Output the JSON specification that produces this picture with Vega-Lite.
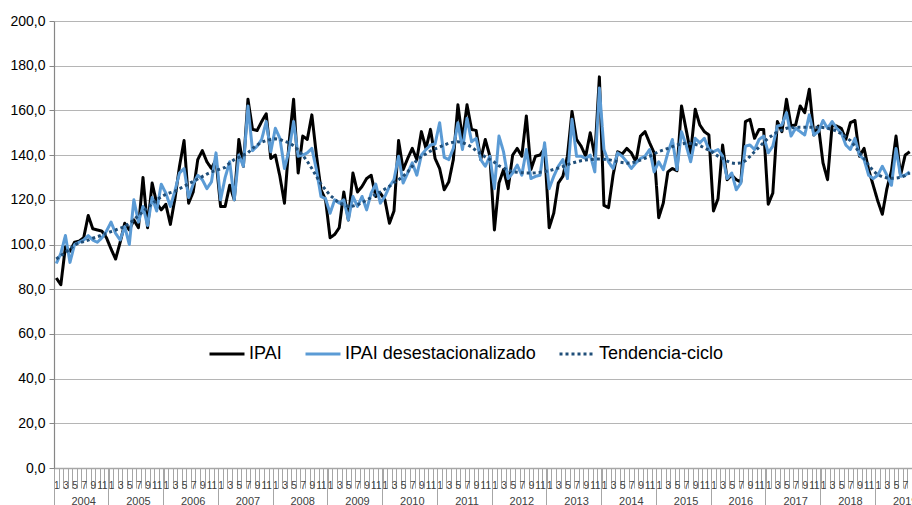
{
"$schema":"https://vega.github.io/schema/vega-lite/v6.json",
"width":858,"height":447,
"autosize":{"type":"none"},
"padding":{"left":54,"top":21,"right":0,"bottom":37},
"background":"white",
"config":{"view":{"stroke":null},"font":"Liberation Sans"},
"data":{"values":[
{"m":"2004-01","IPAI":85,"IPAI desestacionalizado":91.5,"Tendencia-ciclo":93.5},
{"m":"2004-02","IPAI":82,"IPAI desestacionalizado":96,"Tendencia-ciclo":95},
{"m":"2004-03","IPAI":99,"IPAI desestacionalizado":104,"Tendencia-ciclo":96.5},
{"m":"2004-04","IPAI":97,"IPAI desestacionalizado":92,"Tendencia-ciclo":98},
{"m":"2004-05","IPAI":101,"IPAI desestacionalizado":100,"Tendencia-ciclo":99.8},
{"m":"2004-06","IPAI":101.5,"IPAI desestacionalizado":101,"Tendencia-ciclo":100.7},
{"m":"2004-07","IPAI":103,"IPAI desestacionalizado":102,"Tendencia-ciclo":101.3},
{"m":"2004-08","IPAI":113,"IPAI desestacionalizado":104,"Tendencia-ciclo":102},
{"m":"2004-09","IPAI":107,"IPAI desestacionalizado":102,"Tendencia-ciclo":102.8},
{"m":"2004-10","IPAI":106.5,"IPAI desestacionalizado":101,"Tendencia-ciclo":103.5},
{"m":"2004-11","IPAI":106,"IPAI desestacionalizado":103,"Tendencia-ciclo":104.2},
{"m":"2004-12","IPAI":103,"IPAI desestacionalizado":106,"Tendencia-ciclo":105},
{"m":"2005-01","IPAI":98,"IPAI desestacionalizado":110,"Tendencia-ciclo":105.8},
{"m":"2005-02","IPAI":93.5,"IPAI desestacionalizado":105,"Tendencia-ciclo":106.5},
{"m":"2005-03","IPAI":101,"IPAI desestacionalizado":102,"Tendencia-ciclo":107.3},
{"m":"2005-04","IPAI":109.5,"IPAI desestacionalizado":108,"Tendencia-ciclo":108},
{"m":"2005-05","IPAI":106.5,"IPAI desestacionalizado":100,"Tendencia-ciclo":109.5},
{"m":"2005-06","IPAI":111,"IPAI desestacionalizado":120,"Tendencia-ciclo":111},
{"m":"2005-07","IPAI":107.5,"IPAI desestacionalizado":110,"Tendencia-ciclo":113},
{"m":"2005-08","IPAI":130,"IPAI desestacionalizado":117,"Tendencia-ciclo":114.8},
{"m":"2005-09","IPAI":107.5,"IPAI desestacionalizado":108.5,"Tendencia-ciclo":116.5},
{"m":"2005-10","IPAI":127.5,"IPAI desestacionalizado":121,"Tendencia-ciclo":118.2},
{"m":"2005-11","IPAI":118.5,"IPAI desestacionalizado":115,"Tendencia-ciclo":120},
{"m":"2005-12","IPAI":115.5,"IPAI desestacionalizado":127,"Tendencia-ciclo":121.3},
{"m":"2006-01","IPAI":118,"IPAI desestacionalizado":123,"Tendencia-ciclo":122.5},
{"m":"2006-02","IPAI":109,"IPAI desestacionalizado":117,"Tendencia-ciclo":123.2},
{"m":"2006-03","IPAI":120.5,"IPAI desestacionalizado":124,"Tendencia-ciclo":123.8},
{"m":"2006-04","IPAI":135,"IPAI desestacionalizado":132,"Tendencia-ciclo":125},
{"m":"2006-05","IPAI":146.5,"IPAI desestacionalizado":134,"Tendencia-ciclo":126},
{"m":"2006-06","IPAI":118.5,"IPAI desestacionalizado":121,"Tendencia-ciclo":127.2},
{"m":"2006-07","IPAI":123.5,"IPAI desestacionalizado":127,"Tendencia-ciclo":128.2},
{"m":"2006-08","IPAI":138,"IPAI desestacionalizado":131,"Tendencia-ciclo":129.3},
{"m":"2006-09","IPAI":142,"IPAI desestacionalizado":129,"Tendencia-ciclo":130.4},
{"m":"2006-10","IPAI":137,"IPAI desestacionalizado":125,"Tendencia-ciclo":131.5},
{"m":"2006-11","IPAI":134,"IPAI desestacionalizado":128,"Tendencia-ciclo":132.5},
{"m":"2006-12","IPAI":138,"IPAI desestacionalizado":141,"Tendencia-ciclo":133.2},
{"m":"2007-01","IPAI":117,"IPAI desestacionalizado":120,"Tendencia-ciclo":133.8},
{"m":"2007-02","IPAI":117,"IPAI desestacionalizado":130,"Tendencia-ciclo":134.5},
{"m":"2007-03","IPAI":126.5,"IPAI desestacionalizado":137,"Tendencia-ciclo":136.5},
{"m":"2007-04","IPAI":120,"IPAI desestacionalizado":120,"Tendencia-ciclo":138},
{"m":"2007-05","IPAI":147,"IPAI desestacionalizado":140,"Tendencia-ciclo":139},
{"m":"2007-06","IPAI":135,"IPAI desestacionalizado":135,"Tendencia-ciclo":140},
{"m":"2007-07","IPAI":165,"IPAI desestacionalizado":162,"Tendencia-ciclo":141},
{"m":"2007-08","IPAI":151.5,"IPAI desestacionalizado":142,"Tendencia-ciclo":143},
{"m":"2007-09","IPAI":151,"IPAI desestacionalizado":144,"Tendencia-ciclo":144.5},
{"m":"2007-10","IPAI":155,"IPAI desestacionalizado":147,"Tendencia-ciclo":145.8},
{"m":"2007-11","IPAI":158.5,"IPAI desestacionalizado":155,"Tendencia-ciclo":146.5},
{"m":"2007-12","IPAI":138.5,"IPAI desestacionalizado":141.5,"Tendencia-ciclo":147},
{"m":"2008-01","IPAI":140,"IPAI desestacionalizado":152,"Tendencia-ciclo":147.3},
{"m":"2008-02","IPAI":130.5,"IPAI desestacionalizado":147.5,"Tendencia-ciclo":147},
{"m":"2008-03","IPAI":118.5,"IPAI desestacionalizado":134,"Tendencia-ciclo":146.2},
{"m":"2008-04","IPAI":145.5,"IPAI desestacionalizado":142,"Tendencia-ciclo":145.5},
{"m":"2008-05","IPAI":165,"IPAI desestacionalizado":155,"Tendencia-ciclo":144.2},
{"m":"2008-06","IPAI":132,"IPAI desestacionalizado":139.5,"Tendencia-ciclo":142.2},
{"m":"2008-07","IPAI":148.5,"IPAI desestacionalizado":140,"Tendencia-ciclo":140},
{"m":"2008-08","IPAI":147,"IPAI desestacionalizado":141,"Tendencia-ciclo":137.2},
{"m":"2008-09","IPAI":158,"IPAI desestacionalizado":143,"Tendencia-ciclo":134},
{"m":"2008-10","IPAI":140,"IPAI desestacionalizado":133.5,"Tendencia-ciclo":130.5},
{"m":"2008-11","IPAI":124.5,"IPAI desestacionalizado":121.5,"Tendencia-ciclo":127},
{"m":"2008-12","IPAI":120,"IPAI desestacionalizado":120.5,"Tendencia-ciclo":124.5},
{"m":"2009-01","IPAI":103,"IPAI desestacionalizado":114,"Tendencia-ciclo":122},
{"m":"2009-02","IPAI":104.5,"IPAI desestacionalizado":120,"Tendencia-ciclo":120.3},
{"m":"2009-03","IPAI":107.5,"IPAI desestacionalizado":118.5,"Tendencia-ciclo":118.5},
{"m":"2009-04","IPAI":123.5,"IPAI desestacionalizado":120,"Tendencia-ciclo":117.8},
{"m":"2009-05","IPAI":111,"IPAI desestacionalizado":111,"Tendencia-ciclo":117},
{"m":"2009-06","IPAI":132,"IPAI desestacionalizado":121.5,"Tendencia-ciclo":117.2},
{"m":"2009-07","IPAI":123.5,"IPAI desestacionalizado":117,"Tendencia-ciclo":117.7},
{"m":"2009-08","IPAI":126,"IPAI desestacionalizado":121.5,"Tendencia-ciclo":118.8},
{"m":"2009-09","IPAI":129.5,"IPAI desestacionalizado":115.5,"Tendencia-ciclo":119.8},
{"m":"2009-10","IPAI":131,"IPAI desestacionalizado":123,"Tendencia-ciclo":121},
{"m":"2009-11","IPAI":121.5,"IPAI desestacionalizado":127,"Tendencia-ciclo":122.5},
{"m":"2009-12","IPAI":123,"IPAI desestacionalizado":118.5,"Tendencia-ciclo":123.5},
{"m":"2010-01","IPAI":120,"IPAI desestacionalizado":121.5,"Tendencia-ciclo":124.8},
{"m":"2010-02","IPAI":109.5,"IPAI desestacionalizado":126,"Tendencia-ciclo":126},
{"m":"2010-03","IPAI":115,"IPAI desestacionalizado":129,"Tendencia-ciclo":127.7},
{"m":"2010-04","IPAI":146.5,"IPAI desestacionalizado":139.5,"Tendencia-ciclo":129},
{"m":"2010-05","IPAI":133.5,"IPAI desestacionalizado":127.5,"Tendencia-ciclo":130.5},
{"m":"2010-06","IPAI":138.5,"IPAI desestacionalizado":132,"Tendencia-ciclo":132.5},
{"m":"2010-07","IPAI":143,"IPAI desestacionalizado":136.5,"Tendencia-ciclo":135},
{"m":"2010-08","IPAI":138,"IPAI desestacionalizado":131,"Tendencia-ciclo":137.8},
{"m":"2010-09","IPAI":150.5,"IPAI desestacionalizado":140,"Tendencia-ciclo":139.5},
{"m":"2010-10","IPAI":143,"IPAI desestacionalizado":142.5,"Tendencia-ciclo":140.5},
{"m":"2010-11","IPAI":151.5,"IPAI desestacionalizado":144.5,"Tendencia-ciclo":141.8},
{"m":"2010-12","IPAI":138.5,"IPAI desestacionalizado":145,"Tendencia-ciclo":142.8},
{"m":"2011-01","IPAI":134,"IPAI desestacionalizado":154.5,"Tendencia-ciclo":143.6},
{"m":"2011-02","IPAI":124.5,"IPAI desestacionalizado":139,"Tendencia-ciclo":144.5},
{"m":"2011-03","IPAI":128,"IPAI desestacionalizado":138,"Tendencia-ciclo":145.3},
{"m":"2011-04","IPAI":138,"IPAI desestacionalizado":143,"Tendencia-ciclo":145.8},
{"m":"2011-05","IPAI":162.5,"IPAI desestacionalizado":154.5,"Tendencia-ciclo":146},
{"m":"2011-06","IPAI":147,"IPAI desestacionalizado":142.5,"Tendencia-ciclo":145.6},
{"m":"2011-07","IPAI":162.5,"IPAI desestacionalizado":156.5,"Tendencia-ciclo":144.8},
{"m":"2011-08","IPAI":151.5,"IPAI desestacionalizado":146,"Tendencia-ciclo":143.6},
{"m":"2011-09","IPAI":151,"IPAI desestacionalizado":147.5,"Tendencia-ciclo":142},
{"m":"2011-10","IPAI":138,"IPAI desestacionalizado":138,"Tendencia-ciclo":140.6},
{"m":"2011-11","IPAI":147,"IPAI desestacionalizado":135,"Tendencia-ciclo":139.2},
{"m":"2011-12","IPAI":139.5,"IPAI desestacionalizado":139.5,"Tendencia-ciclo":138},
{"m":"2012-01","IPAI":106.5,"IPAI desestacionalizado":125,"Tendencia-ciclo":136.8},
{"m":"2012-02","IPAI":127.5,"IPAI desestacionalizado":148.5,"Tendencia-ciclo":135.2},
{"m":"2012-03","IPAI":133.5,"IPAI desestacionalizado":141.5,"Tendencia-ciclo":134.2},
{"m":"2012-04","IPAI":125,"IPAI desestacionalizado":129.5,"Tendencia-ciclo":133.2},
{"m":"2012-05","IPAI":140,"IPAI desestacionalizado":132,"Tendencia-ciclo":132.6},
{"m":"2012-06","IPAI":143,"IPAI desestacionalizado":135.5,"Tendencia-ciclo":132.3},
{"m":"2012-07","IPAI":139.5,"IPAI desestacionalizado":131,"Tendencia-ciclo":132.1},
{"m":"2012-08","IPAI":157.5,"IPAI desestacionalizado":142.5,"Tendencia-ciclo":132},
{"m":"2012-09","IPAI":133.5,"IPAI desestacionalizado":129.5,"Tendencia-ciclo":132},
{"m":"2012-10","IPAI":139.5,"IPAI desestacionalizado":130.5,"Tendencia-ciclo":132.1},
{"m":"2012-11","IPAI":140,"IPAI desestacionalizado":131,"Tendencia-ciclo":132.3},
{"m":"2012-12","IPAI":143,"IPAI desestacionalizado":145.5,"Tendencia-ciclo":132.6},
{"m":"2013-01","IPAI":107.5,"IPAI desestacionalizado":125,"Tendencia-ciclo":133},
{"m":"2013-02","IPAI":114,"IPAI desestacionalizado":130.5,"Tendencia-ciclo":133.6},
{"m":"2013-03","IPAI":127.5,"IPAI desestacionalizado":135,"Tendencia-ciclo":134.2},
{"m":"2013-04","IPAI":130.5,"IPAI desestacionalizado":138,"Tendencia-ciclo":134.9},
{"m":"2013-05","IPAI":139.5,"IPAI desestacionalizado":129.5,"Tendencia-ciclo":135.7},
{"m":"2013-06","IPAI":159.5,"IPAI desestacionalizado":156,"Tendencia-ciclo":136.4},
{"m":"2013-07","IPAI":147,"IPAI desestacionalizado":139.5,"Tendencia-ciclo":137},
{"m":"2013-08","IPAI":144,"IPAI desestacionalizado":139.5,"Tendencia-ciclo":137.5},
{"m":"2013-09","IPAI":139.5,"IPAI desestacionalizado":138.5,"Tendencia-ciclo":137.8},
{"m":"2013-10","IPAI":150,"IPAI desestacionalizado":140,"Tendencia-ciclo":138},
{"m":"2013-11","IPAI":139.5,"IPAI desestacionalizado":132.5,"Tendencia-ciclo":138.2},
{"m":"2013-12","IPAI":175,"IPAI desestacionalizado":170,"Tendencia-ciclo":138.2},
{"m":"2014-01","IPAI":117.5,"IPAI desestacionalizado":142.5,"Tendencia-ciclo":138.1},
{"m":"2014-02","IPAI":116.5,"IPAI desestacionalizado":137,"Tendencia-ciclo":138},
{"m":"2014-03","IPAI":131,"IPAI desestacionalizado":134,"Tendencia-ciclo":137.5},
{"m":"2014-04","IPAI":141.5,"IPAI desestacionalizado":141,"Tendencia-ciclo":137},
{"m":"2014-05","IPAI":140.5,"IPAI desestacionalizado":139.5,"Tendencia-ciclo":136.7},
{"m":"2014-06","IPAI":143,"IPAI desestacionalizado":137,"Tendencia-ciclo":136.4},
{"m":"2014-07","IPAI":141,"IPAI desestacionalizado":134,"Tendencia-ciclo":136.5},
{"m":"2014-08","IPAI":137,"IPAI desestacionalizado":136.5,"Tendencia-ciclo":137},
{"m":"2014-09","IPAI":148.5,"IPAI desestacionalizado":138.5,"Tendencia-ciclo":137.8},
{"m":"2014-10","IPAI":150.5,"IPAI desestacionalizado":139.5,"Tendencia-ciclo":138.6},
{"m":"2014-11","IPAI":145.5,"IPAI desestacionalizado":142.5,"Tendencia-ciclo":139.4},
{"m":"2014-12","IPAI":141,"IPAI desestacionalizado":132.5,"Tendencia-ciclo":140.5},
{"m":"2015-01","IPAI":112,"IPAI desestacionalizado":137,"Tendencia-ciclo":141.6},
{"m":"2015-02","IPAI":118.5,"IPAI desestacionalizado":133.5,"Tendencia-ciclo":142.3},
{"m":"2015-03","IPAI":132.5,"IPAI desestacionalizado":141,"Tendencia-ciclo":143},
{"m":"2015-04","IPAI":134,"IPAI desestacionalizado":147,"Tendencia-ciclo":143.8},
{"m":"2015-05","IPAI":133,"IPAI desestacionalizado":133.5,"Tendencia-ciclo":144.5},
{"m":"2015-06","IPAI":162,"IPAI desestacionalizado":150.5,"Tendencia-ciclo":145},
{"m":"2015-07","IPAI":151.5,"IPAI desestacionalizado":144.5,"Tendencia-ciclo":145.4},
{"m":"2015-08","IPAI":141,"IPAI desestacionalizado":137,"Tendencia-ciclo":145.2},
{"m":"2015-09","IPAI":160.5,"IPAI desestacionalizado":147.5,"Tendencia-ciclo":144.8},
{"m":"2015-10","IPAI":153.5,"IPAI desestacionalizado":145.5,"Tendencia-ciclo":144.3},
{"m":"2015-11","IPAI":150.5,"IPAI desestacionalizado":147.5,"Tendencia-ciclo":143.2},
{"m":"2015-12","IPAI":149,"IPAI desestacionalizado":142.5,"Tendencia-ciclo":142.2},
{"m":"2016-01","IPAI":115,"IPAI desestacionalizado":141.5,"Tendencia-ciclo":141},
{"m":"2016-02","IPAI":120.5,"IPAI desestacionalizado":142.5,"Tendencia-ciclo":139.5},
{"m":"2016-03","IPAI":144.5,"IPAI desestacionalizado":139.5,"Tendencia-ciclo":138.5},
{"m":"2016-04","IPAI":129,"IPAI desestacionalizado":129.5,"Tendencia-ciclo":137.3},
{"m":"2016-05","IPAI":131,"IPAI desestacionalizado":132,"Tendencia-ciclo":136.5},
{"m":"2016-06","IPAI":129,"IPAI desestacionalizado":124.5,"Tendencia-ciclo":136.2},
{"m":"2016-07","IPAI":128,"IPAI desestacionalizado":127.5,"Tendencia-ciclo":136.5},
{"m":"2016-08","IPAI":155,"IPAI desestacionalizado":144,"Tendencia-ciclo":137.5},
{"m":"2016-09","IPAI":156,"IPAI desestacionalizado":144.5,"Tendencia-ciclo":139.4},
{"m":"2016-10","IPAI":147.5,"IPAI desestacionalizado":142.5,"Tendencia-ciclo":141.5},
{"m":"2016-11","IPAI":151.5,"IPAI desestacionalizado":147,"Tendencia-ciclo":143.6},
{"m":"2016-12","IPAI":151.5,"IPAI desestacionalizado":148.5,"Tendencia-ciclo":145.6},
{"m":"2017-01","IPAI":118,"IPAI desestacionalizado":141,"Tendencia-ciclo":147.6},
{"m":"2017-02","IPAI":123,"IPAI desestacionalizado":144,"Tendencia-ciclo":149},
{"m":"2017-03","IPAI":155,"IPAI desestacionalizado":153,"Tendencia-ciclo":150.4},
{"m":"2017-04","IPAI":150.5,"IPAI desestacionalizado":153.5,"Tendencia-ciclo":151.2},
{"m":"2017-05","IPAI":165,"IPAI desestacionalizado":159,"Tendencia-ciclo":152},
{"m":"2017-06","IPAI":153,"IPAI desestacionalizado":148.5,"Tendencia-ciclo":152.2},
{"m":"2017-07","IPAI":153.5,"IPAI desestacionalizado":152,"Tendencia-ciclo":152.4},
{"m":"2017-08","IPAI":162,"IPAI desestacionalizado":150.5,"Tendencia-ciclo":152.5},
{"m":"2017-09","IPAI":159,"IPAI desestacionalizado":149,"Tendencia-ciclo":152.5},
{"m":"2017-10","IPAI":169.5,"IPAI desestacionalizado":158,"Tendencia-ciclo":152.5},
{"m":"2017-11","IPAI":149,"IPAI desestacionalizado":149,"Tendencia-ciclo":152.5},
{"m":"2017-12","IPAI":153,"IPAI desestacionalizado":150.5,"Tendencia-ciclo":152.4},
{"m":"2018-01","IPAI":136.5,"IPAI desestacionalizado":155.5,"Tendencia-ciclo":152.3},
{"m":"2018-02","IPAI":129,"IPAI desestacionalizado":152,"Tendencia-ciclo":152},
{"m":"2018-03","IPAI":153.5,"IPAI desestacionalizado":155,"Tendencia-ciclo":151.5},
{"m":"2018-04","IPAI":153,"IPAI desestacionalizado":152,"Tendencia-ciclo":150.8},
{"m":"2018-05","IPAI":152,"IPAI desestacionalizado":150,"Tendencia-ciclo":149.5},
{"m":"2018-06","IPAI":147,"IPAI desestacionalizado":144.5,"Tendencia-ciclo":148},
{"m":"2018-07","IPAI":154.5,"IPAI desestacionalizado":142.5,"Tendencia-ciclo":146.5},
{"m":"2018-08","IPAI":155.5,"IPAI desestacionalizado":147.5,"Tendencia-ciclo":144},
{"m":"2018-09","IPAI":139.5,"IPAI desestacionalizado":140,"Tendencia-ciclo":141},
{"m":"2018-10","IPAI":143,"IPAI desestacionalizado":138,"Tendencia-ciclo":138.5},
{"m":"2018-11","IPAI":133.5,"IPAI desestacionalizado":131,"Tendencia-ciclo":135.5},
{"m":"2018-12","IPAI":126.5,"IPAI desestacionalizado":129.5,"Tendencia-ciclo":133},
{"m":"2019-01","IPAI":119.5,"IPAI desestacionalizado":131,"Tendencia-ciclo":131.2},
{"m":"2019-02","IPAI":113.5,"IPAI desestacionalizado":135,"Tendencia-ciclo":130.3},
{"m":"2019-03","IPAI":125,"IPAI desestacionalizado":131,"Tendencia-ciclo":129.8},
{"m":"2019-04","IPAI":133,"IPAI desestacionalizado":126.5,"Tendencia-ciclo":129.6},
{"m":"2019-05","IPAI":148.5,"IPAI desestacionalizado":143,"Tendencia-ciclo":129.7},
{"m":"2019-06","IPAI":131,"IPAI desestacionalizado":130.5,"Tendencia-ciclo":130},
{"m":"2019-07","IPAI":140,"IPAI desestacionalizado":131,"Tendencia-ciclo":130.8},
{"m":"2019-08","IPAI":141.5,"IPAI desestacionalizado":132.5,"Tendencia-ciclo":132}
]},
"transform":[{"fold":["IPAI","IPAI desestacionalizado","Tendencia-ciclo"],"as":["serie","valor"]}],
"encoding":{
"y":{"field":"valor","type":"quantitative","scale":{"domain":[0,200],"nice":false},
"axis":{"title":null,"values":[0,20,40,60,80,100,120,140,160,180,200],"labelExpr":"replace(format(datum.value,'.1f'),'.',',')","labelFontSize":14,"labelColor":"#000000","tickSize":5,"tickColor":"#868686","labelPadding":4,"domainColor":"#868686","domainWidth":1.2,"gridColor":"#b5b5b5","gridWidth":1.2}},
"color":{"field":"serie","type":"nominal","scale":{"domain":["IPAI","IPAI desestacionalizado","Tendencia-ciclo"],"range":["#000000","#5b9bd5","#1f4e79"]},
"legend":{"title":null,"orient":"none","legendX":154,"legendY":314,"direction":"horizontal","symbolType":"stroke","symbolSize":1225,"symbolStrokeWidth":3,"labelFontSize":18,"labelLimit":400,"labelColor":"#000000","columnPadding":17,"labelOffset":3}},
"strokeDash":{"field":"serie","type":"nominal","scale":{"domain":["IPAI","IPAI desestacionalizado","Tendencia-ciclo"],"range":[[1,0],[1,0],[3,3]]},
"legend":{"title":null,"orient":"none","legendX":154,"legendY":314,"direction":"horizontal","symbolType":"stroke","symbolSize":1225,"symbolStrokeWidth":3,"labelFontSize":18,"labelLimit":400,"labelColor":"#000000","columnPadding":17,"labelOffset":3}}
},
"layer":[
{"transform":[{"filter":"datum.serie === 'IPAI'"}],
"mark":{"type":"line","strokeWidth":3,"strokeJoin":"round"},
"encoding":{"x":{"field":"m","type":"ordinal","scale":{"type":"band","paddingInner":0,"paddingOuter":0},
"axis":{"title":null,"orient":"bottom","tickBand":"extent","tickSize":20,"tickColor":"#a6a6a6","tickWidth":1,"domainColor":"#a6a6a6","domainWidth":1.5,"labelExpr":"isString(datum.value) && toNumber(slice(datum.value,5)) % 2 == 1 ? '' + toNumber(slice(datum.value,5)) : ''","labelFontSize":10,"labelColor":"#404040","labelPadding":-8,"labelOverlap":false,"labelAngle":0,"labelFlush":false,"grid":false}}}},
{"transform":[{"filter":"datum.serie === 'IPAI desestacionalizado'"}],
"mark":{"type":"line","strokeWidth":3,"strokeJoin":"round"},
"encoding":{"x":{"field":"m","type":"ordinal","scale":{"type":"band","paddingInner":0,"paddingOuter":0},
"axis":{"title":null,"orient":"bottom","values":["2004-01","2005-01","2006-01","2007-01","2008-01","2009-01","2010-01","2011-01","2012-01","2013-01","2014-01","2015-01","2016-01","2017-01","2018-01","2019-01"],"bandPosition":0,"tickSize":38,"tickColor":"#a6a6a6","tickWidth":1,"labels":false,"domain":false,"grid":false}}}},
{"transform":[{"filter":"datum.serie === 'Tendencia-ciclo'"}],
"mark":{"type":"line","strokeWidth":3},
"encoding":{"x":{"field":"m","type":"ordinal","scale":{"type":"band","paddingInner":0,"paddingOuter":0},
"axis":{"title":null,"orient":"bottom","values":["2004-07","2005-07","2006-07","2007-07","2008-07","2009-07","2010-07","2011-07","2012-07","2013-07","2014-07","2015-07","2016-07","2017-07","2018-07","2019-07"],"bandPosition":0,"ticks":false,"tickSize":0,"domain":false,"grid":false,"labelExpr":"isString(datum.value) ? slice(datum.value,0,4) : ''","labelFontSize":11,"labelColor":"#404040","labelPadding":27,"labelOverlap":false,"labelFlush":false,"labelAngle":0}}}}
],
"resolve":{"axis":{"x":"independent"}}
}
